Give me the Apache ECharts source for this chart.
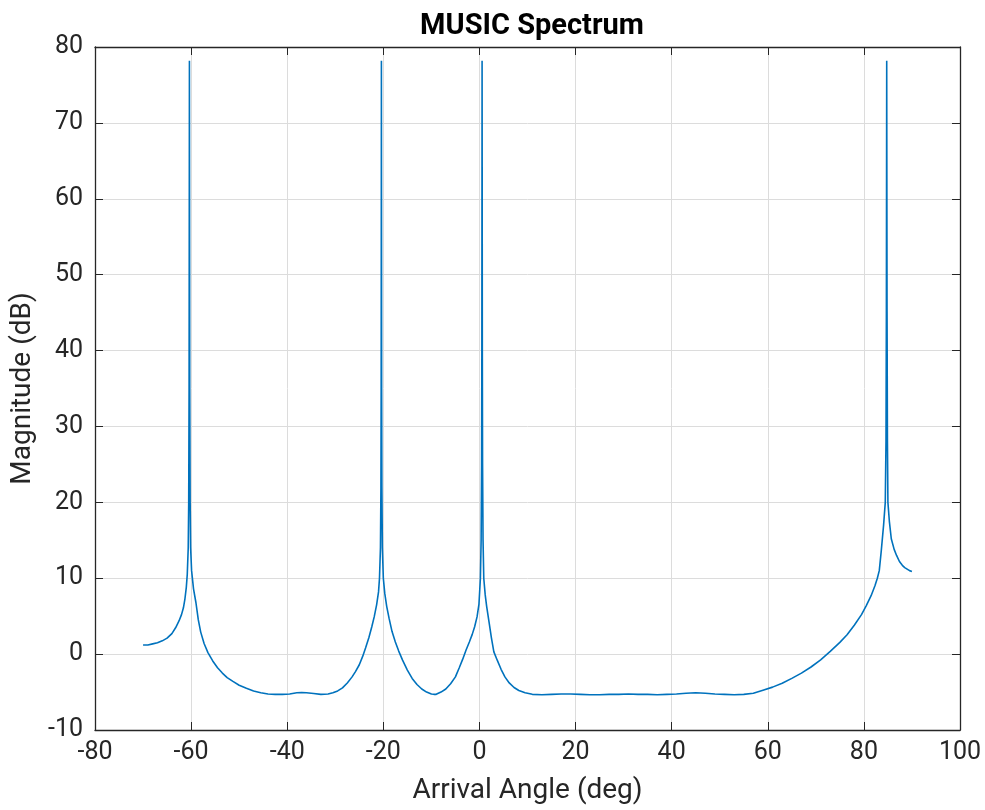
<!DOCTYPE html>
<html>
<head>
<meta charset="utf-8">
<script src="https://cdn.jsdelivr.net/npm/echarts@6/dist/echarts.min.js"></script>
<style>html,body{margin:0;padding:0;background:#fff}#chart{width:985px;height:810px}</style>
</head>
<body>
<div id="chart"></div>
<script>
const titleText = 'MUSIC Spectrum';
const xLabel = 'Arrival Angle (deg)';
const yLabel = 'Magnitude (dB)';
const angles = [
  -70, -69, -68, -67, -66, -65, -64, -63.2, -62.5, -62,
  -61.6, -61.3, -61.0, -60.8, -60.6, -60.5, -60.42, -60.35, -60.28, -60.2,
  -60.1, -59.9, -59.5, -59.0, -58.5, -58.0, -57.3, -56.5, -55.5, -54.5,
  -53.5, -52.5, -51.3, -50, -48.5, -47, -45.5, -44, -42.5, -41,
  -39.5, -38, -37, -36, -34.5, -33, -31.5, -30.5, -29.5, -28.5,
  -27.5, -26.5, -25.8, -25, -24.3, -23.7, -23, -22.4, -21.9, -21.4,
  -21.0, -20.8, -20.6, -20.5, -20.45, -20.4, -20.35, -20.3, -20.2, -20.0,
  -19.7, -19.3, -18.8, -18.2, -17.5, -16.8, -16, -15, -14, -13,
  -12, -11, -10, -9.5, -9, -8, -7, -6, -5, -4.2,
  -3.5, -2.8, -2.1, -1.5, -1, -0.5, -0.1, 0.2, 0.35, 0.45,
  0.5, 0.55, 0.6, 0.65, 0.75, 0.9, 1.2, 1.5, 2, 2.5,
  3, 3.7, 4.5, 5.3, 6.2, 7.2, 8.2, 9.5, 11, 13,
  15, 17, 19, 21, 23, 25, 27, 29, 31, 33,
  35, 37, 39, 41, 43, 45, 47, 49, 51, 53,
  55, 57, 59, 61, 63, 65, 67, 69, 71, 73,
  75, 76.5, 78, 79.5, 80.5, 81.5, 82.3, 82.8, 83.2, 83.6,
  84.1, 84.45, 84.6, 84.68, 84.75, 84.82, 84.9, 85.0, 85.3, 85.7,
  86.3, 86.8, 87.4, 88, 88.5, 89, 89.5, 90
];
const magnitudes = [
  1.2, 1.2, 1.35, 1.5, 1.75, 2.1, 2.7, 3.5, 4.4, 5.2,
  6.1, 7.2, 8.8, 10.5, 14, 20, 35, 78.2, 35, 20,
  14, 11, 8.6, 6.8, 4.5, 2.9, 1.4, 0.2, -0.9, -1.8,
  -2.5, -3.1, -3.6, -4.1, -4.5, -4.85, -5.1, -5.25, -5.3, -5.3,
  -5.25, -5.1, -5.05, -5.1, -5.2, -5.3, -5.25, -5.1, -4.85, -4.45,
  -3.8, -3.0, -2.3, -1.4, -0.3, 0.8, 2.2, 3.6, 4.9, 6.5,
  8.2, 10, 14, 22, 35, 78.2, 35, 22, 14, 10,
  8, 6.3, 4.7, 3.0, 1.6, 0.4, -0.8, -2.1, -3.2, -4.0,
  -4.6, -5.0, -5.25, -5.3, -5.3, -5.0, -4.6, -3.9, -3.0, -1.8,
  -0.7, 0.5, 1.6, 2.6, 3.6, 4.9, 6.6, 10, 15, 25,
  40, 78.2, 40, 25, 15, 10, 7.8, 6.3, 4.2, 2.1,
  0.3, -0.8, -2.0, -3.0, -3.8, -4.4, -4.8, -5.1, -5.3, -5.35,
  -5.3, -5.25, -5.25, -5.3, -5.35, -5.35, -5.3, -5.3, -5.25, -5.3,
  -5.3, -5.35, -5.3, -5.25, -5.15, -5.1, -5.15, -5.25, -5.3, -5.35,
  -5.3, -5.15, -4.75, -4.35, -3.85, -3.2, -2.5, -1.7, -0.75, 0.35,
  1.55, 2.55, 3.8, 5.2, 6.4, 7.7, 9.0, 10.0, 11.0, 13.5,
  17, 20, 28, 45, 78.2, 45, 28, 20, 17.5, 15.2,
  13.8, 13.0, 12.2, 11.7, 11.4, 11.2, 11.0, 10.9
];
const xTicks = [-80,-60,-40,-20,0,20,40,60,80,100];
const yTicks = [-10,0,10,20,30,40,50,60,70,80];

const data = angles.map((a, i) => [a, magnitudes[i]]);
const axisColor = '#262626';
const font = 'Roboto, "Liberation Sans", Arial, sans-serif';
const chart = echarts.init(document.getElementById('chart'), null, {renderer: 'canvas'});
const baseX = {
  type: 'value', min: xTicks[0], max: xTicks[xTicks.length-1], interval: 20,
  axisLine: {show: true, onZero: false, lineStyle: {color: axisColor, width: 1.3}},
  axisTick: {show: true, inside: true, length: 8, lineStyle: {color: axisColor}}
};
const baseY = {
  type: 'value', min: yTicks[0], max: yTicks[yTicks.length-1], interval: 10,
  axisLine: {show: true, onZero: false, lineStyle: {color: axisColor, width: 1.3}},
  axisTick: {show: true, inside: true, length: 8, lineStyle: {color: axisColor}}
};
chart.setOption({
  animation: false,
  title: {text: titleText, left: 527, top: 7, textAlign: 'center',
    textStyle: {fontFamily: font, fontSize: 29, fontWeight: 'bold', color: '#000'}},
  grid: {left: 95, right: 25, top: 47, bottom: 77},
  xAxis: [
    Object.assign({}, baseX, {position: 'bottom',
      name: xLabel, nameLocation: 'middle', nameGap: 47,
      nameTextStyle: {fontFamily: font, fontSize: 28, color: axisColor},
      axisLabel: {show: true, margin: 10, fontFamily: font, fontSize: 25, color: axisColor},
      splitLine: {show: true, lineStyle: {color: '#dcdcdc', width: 1}}}),
    Object.assign({}, baseX, {position: 'top', axisLabel: {show: false}, splitLine: {show: false}})
  ],
  yAxis: [
    Object.assign({}, baseY, {position: 'left',
      name: yLabel, nameLocation: 'middle', nameGap: 53,
      nameTextStyle: {fontFamily: font, fontSize: 28, color: axisColor},
      axisLabel: {show: true, margin: 12, fontFamily: font, fontSize: 25, color: axisColor},
      splitLine: {show: true, lineStyle: {color: '#dcdcdc', width: 1}}}),
    Object.assign({}, baseY, {position: 'right', axisLabel: {show: false}, splitLine: {show: false}})
  ],
  series: [{
    type: 'line', data: data, xAxisIndex: 0, yAxisIndex: 0,
    showSymbol: false, symbol: 'none', smooth: false,
    lineStyle: {color: '#0072BD', width: 1.6}
  }]
});
</script>
</body>
</html>
